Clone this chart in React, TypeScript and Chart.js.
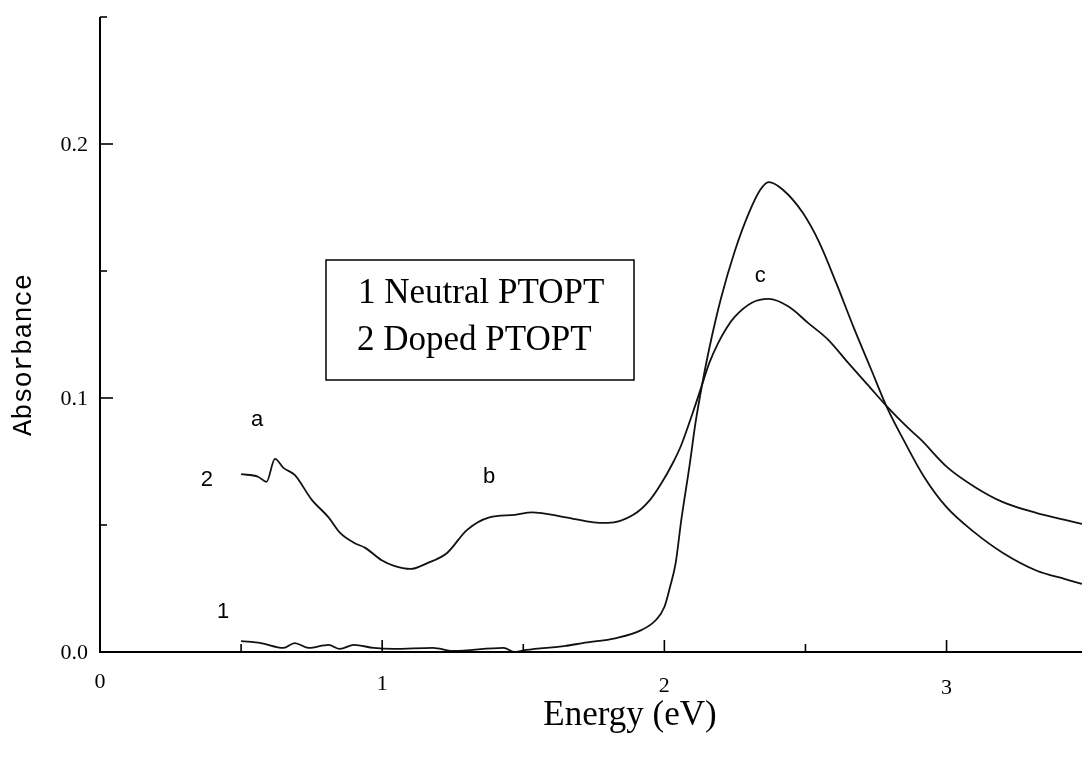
import React, { useEffect, useRef } from "react";
import { Chart, registerables } from "chart.js";

Chart.register(...registerables);

// Curve 1: neutral PTOPT
const neutralEnergy = [
  0.5, 0.57, 0.65, 0.69, 0.74, 0.81, 0.85, 0.9, 0.97, 1.04, 1.18, 1.25, 1.43, 1.47, 1.51, 1.65, 1.71, 1.83,
  1.92, 1.97, 2.0, 2.02, 2.04, 2.06, 2.09, 2.11, 2.135, 2.16, 2.2, 2.25, 2.3, 2.34, 2.37, 2.42, 2.49, 2.55, 2.61,
  2.67, 2.73, 2.79, 2.85, 2.92, 3.0, 3.1, 3.2, 3.32, 3.42, 3.48,
];
const neutralAbs = [
  0.0043, 0.0035, 0.0016, 0.0035, 0.0016, 0.0028, 0.0012, 0.0028, 0.0016, 0.0012, 0.0016, 0.0004, 0.0016, 0.0,
  0.0008, 0.0024, 0.0035, 0.0055, 0.0087, 0.0126, 0.0177, 0.0256, 0.035, 0.052, 0.074, 0.09, 0.106, 0.12, 0.139,
  0.158, 0.173, 0.182, 0.185, 0.182, 0.173, 0.161, 0.145, 0.128, 0.112, 0.096, 0.083, 0.069, 0.057, 0.047,
  0.039, 0.032, 0.0287, 0.0268,
];

// Curve 2: doped PTOPT
const dopedEnergy = [
  0.5, 0.56, 0.59, 0.62, 0.65, 0.69, 0.75, 0.81, 0.85, 0.9, 0.94, 1.0, 1.04, 1.1, 1.16, 1.23, 1.3, 1.38, 1.47,
  1.53, 1.65, 1.75, 1.8, 1.89, 1.95, 1.99, 2.03, 2.06, 2.1, 2.13, 2.16, 2.19, 2.22, 2.25, 2.31, 2.37, 2.44, 2.51,
  2.58, 2.65, 2.73, 2.79, 2.86, 2.91, 3.0, 3.1, 3.2, 3.32, 3.42, 3.48,
];
const dopedAbs = [
  0.07, 0.069, 0.067, 0.076, 0.0725, 0.0697, 0.06, 0.053, 0.047, 0.043, 0.041, 0.036, 0.034, 0.0327, 0.035,
  0.039, 0.048, 0.053, 0.054, 0.055, 0.053, 0.051, 0.0508, 0.054, 0.06, 0.0665, 0.0744, 0.0815, 0.094, 0.104,
  0.114, 0.1215, 0.1275, 0.132, 0.1375, 0.139, 0.136, 0.1295, 0.123, 0.114, 0.104, 0.0965, 0.0886, 0.0835,
  0.073, 0.065, 0.059, 0.0547, 0.052, 0.0504,
];

const xMin = 0;
const xMax = 3.48;
const yMin = 0;
const yMax = 0.25;
const xTickValues = [0, 1, 2, 3];
const xTickLabels = ["0", "1", "2", "3"];
const xMinorTicks = [0.5, 1.5, 2.5];
const yTickValues = [0, 0.1, 0.2];
const yTickLabels = ["0.0", "0.1", "0.2"];
const yMinorTicks = [0.05, 0.15, 0.25];
const xTitle = "Energy (eV)";
const yTitle = "Absorbance";
const legendLines = ["1 Neutral PTOPT", "2 Doped PTOPT"];
const curveLabelTexts = ["a", "b", "c", "2", "1"];
const curveLabelX = [0.557, 1.379, 2.34, 0.379, 0.436];
const curveLabelY = [0.0913, 0.0689, 0.148, 0.0677, 0.0157];

const decorPlugin = {
  id: "decor",
  afterDraw(chart: any) {
    const ctx = chart.ctx as CanvasRenderingContext2D;
    const xs = chart.scales.x;
    const ys = chart.scales.y;
    const x0 = xs.getPixelForValue(xMin);
    const y0 = ys.getPixelForValue(yMin);
    ctx.save();
    ctx.strokeStyle = "#000";
    ctx.fillStyle = "#000";
    ctx.lineWidth = 2;
    // axes
    ctx.beginPath();
    ctx.moveTo(x0, ys.getPixelForValue(yMax));
    ctx.lineTo(x0, y0);
    ctx.lineTo(xs.getPixelForValue(xMax), y0);
    ctx.stroke();
    // y ticks (inward)
    ctx.lineWidth = 1.6;
    yTickValues.forEach((v) => {
      const py = ys.getPixelForValue(v);
      ctx.beginPath();
      ctx.moveTo(x0, py);
      ctx.lineTo(x0 + 13, py);
      ctx.stroke();
    });
    yMinorTicks.forEach((v) => {
      const py = ys.getPixelForValue(v);
      ctx.beginPath();
      ctx.moveTo(x0, py);
      ctx.lineTo(x0 + 7, py);
      ctx.stroke();
    });
    xTickValues.forEach((v) => {
      if (v === 0) return;
      const px = xs.getPixelForValue(v);
      ctx.beginPath();
      ctx.moveTo(px, y0);
      ctx.lineTo(px, y0 - 12);
      ctx.stroke();
    });
    xMinorTicks.forEach((v) => {
      const px = xs.getPixelForValue(v);
      ctx.beginPath();
      ctx.moveTo(px, y0);
      ctx.lineTo(px, y0 - 8);
      ctx.stroke();
    });
    // tick labels
    ctx.font = "22px 'Liberation Serif', serif";
    ctx.textBaseline = "middle";
    ctx.textAlign = "right";
    yTickValues.forEach((v, i) => {
      ctx.fillText(yTickLabels[i], x0 - 12, ys.getPixelForValue(v) + 1);
    });
    ctx.textAlign = "center";
    xTickValues.forEach((v, i) => {
      ctx.fillText(xTickLabels[i], xs.getPixelForValue(v), y0 + 30 + i * 2);
    });
    // titles
    ctx.font = "35px 'Liberation Serif', serif";
    ctx.fillText(xTitle, 630, 716);
    ctx.save();
    ctx.translate(24, 355);
    ctx.rotate(-Math.PI / 2);
    ctx.font = "27px 'Liberation Mono', monospace";
    ctx.fillText(yTitle, 0, 0);
    ctx.restore();
    // curve labels
    ctx.font = "22px 'Liberation Sans', sans-serif";
    curveLabelTexts.forEach((t, i) => {
      ctx.fillText(t, xs.getPixelForValue(curveLabelX[i]), ys.getPixelForValue(curveLabelY[i]));
    });
    // legend box
    ctx.lineWidth = 1.5;
    ctx.strokeRect(326, 260, 308, 120);
    ctx.font = "35px 'Liberation Serif', serif";
    ctx.textAlign = "left";
    ctx.fillText(legendLines[0], 358, 294);
    ctx.fillText(legendLines[1], 357, 341);
    ctx.restore();
  },
};

export default function App() {
  const canvasRef = useRef<HTMLCanvasElement | null>(null);

  useEffect(() => {
    const canvas = canvasRef.current;
    if (!canvas) return;
    const toPoints = (xs: number[], ys: number[]) => xs.map((x, i) => ({ x, y: ys[i] }));
    const chart = new Chart(canvas, {
      type: "line",
      data: {
        datasets: [
          {
            label: legendLines[0],
            data: toPoints(neutralEnergy, neutralAbs),
            borderColor: "#111",
            borderWidth: 1.8,
            pointRadius: 0,
            fill: false,
            cubicInterpolationMode: "monotone",
          },
          {
            label: legendLines[1],
            data: toPoints(dopedEnergy, dopedAbs),
            borderColor: "#111",
            borderWidth: 1.8,
            pointRadius: 0,
            fill: false,
            cubicInterpolationMode: "monotone",
          },
        ],
      },
      options: {
        responsive: false,
        animation: false,
        devicePixelRatio: 1,
        layout: { padding: { left: 100, right: 0, top: 17, bottom: 106 } },
        plugins: { legend: { display: false }, tooltip: { enabled: false } },
        scales: {
          x: { type: "linear", min: xMin, max: xMax, display: false },
          y: { type: "linear", min: yMin, max: yMax, display: false },
        },
      },
      plugins: [decorPlugin],
    });
    return () => chart.destroy();
  }, []);

  return (
    <div style={{ position: "absolute", left: 0, top: 0, width: 1082, height: 758, background: "#fff" }}>
      <canvas ref={canvasRef} width={1082} height={758} style={{ display: "block" }} />
    </div>
  );
}
